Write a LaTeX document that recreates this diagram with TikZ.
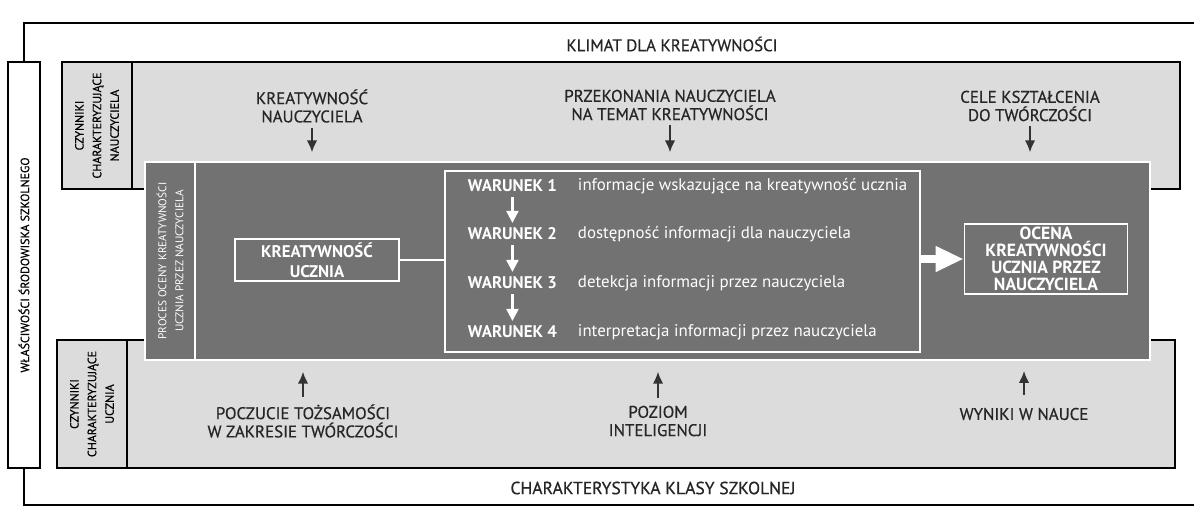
\documentclass[tikz,border=0pt]{standalone}
\usepackage{fontspec}
\setmainfont{PT Sans}
\newfontfamily\heavier[FakeBold=0.6]{PT Sans}
\usetikzlibrary{positioning, arrows.meta, fit}
\usepackage{xcolor}
\definecolor{paper}{HTML}{DCDCDC}
\definecolor{slate}{HTML}{727272}

\begin{document}
\begin{tikzpicture}[
  x=0.025cm, y=-0.025cm,
  frame/.style={draw, line width=1.2pt},
  panel/.style={frame, fill=paper, inner sep=0pt},
  inner/.style={draw=white, line width=1.2pt, inner sep=0pt},
  factor/.style={align=center, text=black!85, font=\heavier\fontsize{12}{13}\selectfont},
  side/.style={rotate=90, align=center, font=\heavier\fontsize{8.5}{12.5}\selectfont},
  cond/.style={anchor=west, text=white, font=\fontsize{12}{13}\selectfont},
  whitebox/.style={inner, align=center, text=white, font=\bfseries\fontsize{12.5}{12}\selectfont},
  arr/.style={-{Latex[length=3mm, width=2.6mm]}, line width=1.3pt, black!80},
  warr/.style={-{Triangle[length=3mm, width=3mm]}, line width=1.6pt, white},
  bigarr/.style={-{Triangle[length=7mm, width=6mm]}, line width=6pt, white}
]
\useasboundingbox (0,0) rectangle (1194,515);

% school environment frame
\node[frame, fill=white, inner sep=0pt, fit={(8,62) (40,468)}] (env) {};
\node[side, font=\heavier\fontsize{8.5}{10}\selectfont] (envtxt) at (env.center) {WŁAŚCIWOŚCI ŚRODOWISKA SZKOLNEGO};
\coordinate (topend) at (1194,23);
\coordinate (botend) at (1194,505);
\draw[frame] (env.north) |- (topend);
\draw[frame] (env.south) |- (botend);

\node[factor] (klimat) at (672,44) {KLIMAT DLA KREATYWNOŚCI};
\node[factor, font=\heavier\fontsize{12.5}{13}\selectfont] (klasa) at (653,488) {CHARAKTERYSTYKA KLASY SZKOLNEJ};

% teacher factors
\node[panel, fit={(62,62) (1180,189)}] (teach) {};
\node[panel, fit={(62,62) (132,189)}] (teachlbl) {};
\node[side] (teachtxt) at (teachlbl.center) {CZYNNIKI\\CHARAKTERYZUJĄCE\\NAUCZYCIELA};

% student factors
\node[panel, fit={(57,340) (1175,468)}] (stud) {};
\node[panel, fit={(57,340) (127,468)}] (studlbl) {};
\node[side] (studtxt) at (studlbl.center) {CZYNNIKI\\CHARAKTERYZUJĄCE\\UCZNIA};

% assessment process
\node[inner, fill=slate, fit={(145,162) (1150,360)}] (proc) {};
\node[inner, fill=slate, fit={(145,162) (195,360)}] (proclbl) {};
\node[side, text=white, font=\fontsize{8}{12}\selectfont] (proctxt) at (proclbl.center) {PROCES OCENY KREATYWNOŚCI\\UCZNIA PRZEZ NAUCZYCIELA};

\node[whitebox, font=\bfseries\fontsize{12}{14}\selectfont, minimum width=4.1cm, minimum height=1.05cm] (ku) at (317,260) {KREATYWNOŚĆ\\UCZNIA};
\node[inner, fit={(445,171) (920,352)}] (conds) {};
\node[whitebox, minimum width=4.075cm, minimum height=1.75cm] (ocena) at (1046,259) {OCENA\\KREATYWNOŚCI\\UCZNIA PRZEZ\\NAUCZYCIELA};

% conditions
\node[cond, font=\bfseries\fontsize{12}{13}\selectfont] (w1) at (463,186) {WARUNEK 1};
\node[cond, font=\bfseries\fontsize{12}{13}\selectfont] (w2) at (463,234) {WARUNEK 2};
\node[cond, font=\bfseries\fontsize{12}{13}\selectfont] (w3) at (463,283) {WARUNEK 3};
\node[cond, font=\bfseries\fontsize{12}{13}\selectfont] (w4) at (463,332) {WARUNEK 4};
\node[cond] (i1) at (573,186) {informacje wskazujące na kreatywność ucznia};
\node[cond] (i2) at (573,234) {dostępność informacji dla nauczyciela};
\node[cond] (i3) at (573,283) {detekcja informacji przez nauczyciela};
\node[cond] (i4) at (573,332) {interpretacja informacji przez nauczyciela};

\draw[warr] (w1) -- (w2);
\draw[warr] (w2) -- (w3);
\draw[warr] (w3) -- (w4);

\draw[white, line width=1.2pt] (ku.east) -- (ku.east -| conds.west);
\draw[bigarr] (conds.east |- ocena.west) -- (ocena.west);

% teacher influences
\node[factor] (t1) at (312,106) {KREATYWNOŚĆ\\NAUCZYCIELA};
\node[factor] (t2) at (670,105) {PRZEKONANIA NAUCZYCIELA\\NA TEMAT KREATYWNOŚCI};
\node[factor] (t3) at (1030,106) {CELE KSZTAŁCENIA\\DO TWÓRCZOŚCI};

\draw[arr, shorten >=0.22cm] (t1) -- (t1 |- proc.north);
\draw[arr, shorten >=0.22cm] (t2) -- (t2 |- proc.north);
\draw[arr, shorten >=0.22cm] (t3) -- (t3 |- proc.north);

% student influences
\node[factor] (s1) at (303,421) {POCZUCIE TOŻSAMOŚCI\\W ZAKRESIE TWÓRCZOŚCI};
\node[factor] (s2) at (658,421) {POZIOM\\INTELIGENCJI};
\node[factor] (s3) at (1024,414) {WYNIKI W NAUCE};

\draw[arr, shorten <=0.07cm, shorten >=0.27cm] (s1) -- (s1 |- proc.south);
\draw[arr, shorten <=0.07cm, shorten >=0.27cm] (s2) -- (s2 |- proc.south);
\draw[arr, shorten <=0.2cm, shorten >=0.25cm] (s3) -- (s3 |- proc.south);

\end{tikzpicture}
\end{document}
